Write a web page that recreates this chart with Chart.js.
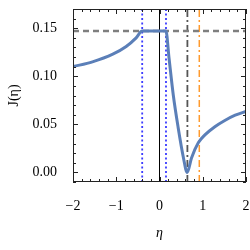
<!DOCTYPE html>
<html>
<head>
<meta charset="utf-8">
<script src="https://cdn.jsdelivr.net/npm/chart.js@4"></script>
<style>
  html, body { margin: 0; padding: 0; background: #fff; }
  canvas { display: block; }
</style>
</head>
<body>
<canvas id="c" width="250" height="250"></canvas>
<script>
// J(eta) curve
const etaVals = [-2, -1.55, -1.08, -0.77, -0.54, -0.4, 0.15, 0.22, 0.32, 0.43, 0.55, 0.64, 0.74, 0.9, 1.05, 1.28, 1.51, 1.75, 2.0]
const jVals = [0.110, 0.115, 0.123, 0.131, 0.140, 0.147, 0.147, 0.119, 0.080, 0.047, 0.016, 0.0, 0.015, 0.031, 0.039, 0.0475, 0.054, 0.0595, 0.0635]

// reference lines
const jMax = 0.147
const blueLines = [-0.40, 0.15]
const grayLine = 0.645
const orangeLine = 0.92

const xTicks = [-2, -1, 0, 1, 2]
const yTicks = [0, 0.05, 0.10, 0.15]
const xMinor = [-1.8, -1.6, -1.4, -1.2, -0.8, -0.6, -0.4, -0.2, 0.2, 0.4, 0.6, 0.8, 1.2, 1.4, 1.6, 1.8]
const yMinor = [-0.01, 0.01, 0.02, 0.03, 0.04, 0.06, 0.07, 0.08, 0.09, 0.11, 0.12, 0.13, 0.14, 0.16, 0.17]

const xRange = [-2, 2]
const yRange = [-0.01, 0.17]

const serif = '"Liberation Serif", "DejaVu Serif", serif'

function vline (x, color, width, dash) {
  return {
    data: [{ x, y: yRange[0] }, { x, y: yRange[1] }],
    borderColor: color, borderWidth: width, borderDash: dash,
    pointRadius: 0, order: 2
  }
}

// frame with inward ticks, like the original plot
const framePlugin = {
  id: 'frame',
  afterDatasetsDraw (chart) {
    const { ctx, chartArea: a, scales } = chart
    ctx.save()
    ctx.strokeStyle = '#222'
    ctx.lineWidth = 1
    ctx.strokeRect(a.left + 0.5, a.top + 0.5, a.right - a.left - 1, a.bottom - a.top - 1)
    const tick = (vals, len, horiz) => {
      vals.forEach(v => {
        ctx.beginPath()
        if (horiz) {
          const px = Math.round(scales.x.getPixelForValue(v)) + 0.5
          ctx.moveTo(px, a.bottom); ctx.lineTo(px, a.bottom - len)
          ctx.moveTo(px, a.top); ctx.lineTo(px, a.top + len)
        } else {
          const py = Math.round(scales.y.getPixelForValue(v)) + 0.5
          ctx.moveTo(a.left, py); ctx.lineTo(a.left + len, py)
          ctx.moveTo(a.right, py); ctx.lineTo(a.right - len, py)
        }
        ctx.stroke()
      })
    }
    tick(xTicks, 5, true)
    tick(xMinor, 3, true)
    tick(yTicks, 5, false)
    tick(yMinor, 3, false)
    ctx.restore()
  }
}

function noPad (s) {
  s.paddingLeft = 0; s.paddingRight = 0; s.paddingTop = 0; s.paddingBottom = 0
}

new Chart(document.getElementById('c'), {
  type: 'line',
  data: {
    datasets: [
      {
        data: etaVals.map((x, i) => ({ x, y: jVals[i] })),
        borderColor: '#5b7fb8', borderWidth: 3,
        pointRadius: 0, cubicInterpolationMode: 'monotone', order: 0
      },
      {
        data: [{ x: xRange[0], y: jMax }, { x: xRange[1], y: jMax }],
        borderColor: '#7f7f7f', borderWidth: 2.5, borderDash: [6, 4],
        pointRadius: 0, order: 1
      },
      vline(0, '#000', 1, []),
      vline(blueLines[0], '#3b3bff', 1.8, [2, 2.5]),
      vline(blueLines[1], '#3b3bff', 1.8, [2, 2.5]),
      vline(grayLine, '#555', 1.8, [7, 3, 2, 3]),
      vline(orangeLine, '#ff9a2e', 1.5, [7, 3, 2, 3])
    ]
  },
  options: {
    responsive: false,
    animation: false,
    devicePixelRatio: 1,
    layout: { padding: { left: 0, top: 9, right: 4, bottom: 0 } },
    plugins: { legend: { display: false }, tooltip: { enabled: false } },
    scales: {
      x: {
        type: 'linear', min: xRange[0], max: xRange[1],
        afterBuildTicks: s => { s.ticks = xTicks.map(value => ({ value })) },
        afterFit: s => { s.height = 68; noPad(s) },
        grid: { display: false }, border: { display: false },
        ticks: {
          padding: 8, color: '#000', font: { family: serif, size: 14 },
          callback: v => String(v).replace('-', '\u2212')
        },
        title: {
          display: true, text: 'η', color: '#000', padding: { top: 0, bottom: 8 },
          font: { family: serif, size: 14, style: 'italic' }
        }
      },
      y: {
        type: 'linear', min: yRange[0], max: yRange[1],
        afterBuildTicks: s => { s.ticks = yTicks.map(value => ({ value })) },
        afterFit: s => { s.width = 73; noPad(s) },
        grid: { display: false }, border: { display: false },
        ticks: {
          padding: 8, color: '#000', font: { family: serif, size: 14 },
          callback: v => v.toFixed(2)
        },
        title: {
          display: true, text: 'J(η)', color: '#000', padding: { top: 6, bottom: 0 },
          font: { family: serif, size: 14 }
        }
      }
    }
  },
  plugins: [framePlugin]
})
</script>
</body>
</html>
